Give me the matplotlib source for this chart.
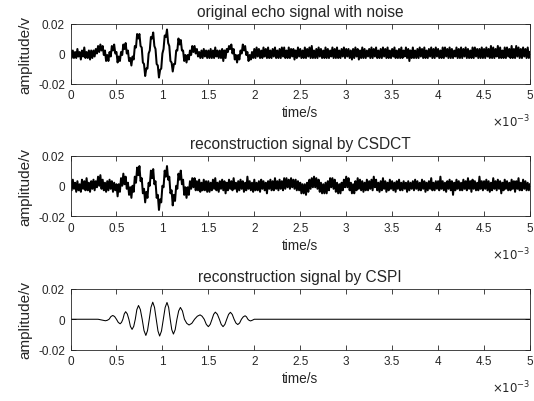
import numpy as np
import matplotlib
matplotlib.use('Agg')
import matplotlib.pyplot as plt

# values, in mV, one sample every 0.0125 ms (0 .. 5 ms)
echo_mv = [
    2, -3, 2, -3, 1, -3, 3, -2, 1, -4, 2, -2, 4, -3, 1, -3, 2, -4, 2, -3,
    2, -2, 3, 0, 5, 1, 6, 2, 5, -1, 2, -5, -1, -5, 1, -2, 5, 2, 6, 0,
    1, -6, -2, -5, 1, -1, 6, 3, 7, 0, 2, -5, -3, -8, -2, -4, 5, 4, 13, 10,
    13, 5, 4, -6, -7, -15, -10, -10, 0, 2, 11, 10, 14, 5, 3, -7, -8, -16, -11, -10,
    0, 3, 12, 11, 16, 7, 5, -5, -6, -12, -7, -7, 2, 2, 10, 6, 9, 2, 2, -5,
    -1, -6, -1, -4, 2, -1, 5, 1, 5, 0, 3, -2, 1, -3, 2, -3, 3, -2, 2, -3,
    2, -3, 3, -3, 2, -3, 4, -2, 2, -3, 2, -3, 3, -5, 2, -3, 3, 1, 5, 3,
    6, 0, 3, -4, -1, -6, -1, -4, 2, 0, 6, 2, 5, -1, 1, -5, -1, -4, 1, -3,
    3, -3, 4, -2, 3, -3, 2, -3, 4, -2, 3, -3, 4, -3, 2, -3, 3, -2, 4, -3,
    2, -3, 3, -3, 4, -2, 4, -3, 2, -3, 4, -3, 3, -2, 3, -4, 2, -3, 4, -2,
    3, -3, 2, -3, 4, -3, 3, -2, 4, -3, 5, -3, 2, -3, 3, -3, 4, -2, 3, -3,
    2, -3, 4, -3, 3, -3, 2, -2, 4, -3, 3, -3, 4, -3, 2, -3, 3, -2, 4, -3,
    3, -2, 3, -3, 2, -4, 3, -3, 4, -2, 3, -4, 2, -3, 4, -3, 3, -3, 2, -2,
    3, -3, 4, -3, 3, -2, 4, -3, 2, -3, 3, -3, 4, -2, 3, -3, 4, -3, 2, -3,
    3, -2, 4, -3, 2, -3, 3, -3, 4, -3, 2, -2, 4, -3, 3, -5, 2, -3, 4, -3,
    2, -3, 3, -3, 4, -2, 3, -3, 4, -3, 2, -3, 3, -2, 4, -3, 3, -3, 4, -2,
    3, -3, 2, -3, 4, -3, 4, -2, 3, -3, 4, -3, 3, -3, 2, -2, 4, -3, 3, -3,
    4, -3, 3, -2, 4, -3, 3, -3, 2, -3, 4, -3, 4, -2, 3, -3, 3, -3, 4, -3,
    3, -3, 4, -2, 3, -3, 5, -3, 4, -3, 3, -2, 5, -3, 4, -3, 2, -3, 4, -3,
    4, -2, 3, -3, 5, -3, 3, -3, 5, -2, 4, -3, 3, -3, 4, -2, 3, -3, 4, -3,
    1,
]

csdct_mv = [
    3, -3, 4, -2, 2, -4, 3, -3, 1, -4, 4, -2, 3, -3, 5, -3, 2, -4, 3, -2,
    4, -3, 3, -1, 6, 0, 7, -2, 4, -3, 2, -4, 3, -3, 4, -2, 3, -4, 2, -3,
    1, -7, 1, -4, 5, 0, 8, 1, 6, -2, 2, -6, -1, -8, 0, -4, 6, 2, 12, 7,
    13, 3, 5, -5, -2, -11, -4, -8, 2, 0, 10, 5, 11, 1, 3, -8, -6, -16, -9, -11,
    0, -1, 10, 6, 13, 4, 6, -5, -3, -13, -6, -10, 0, -2, 8, 4, 10, 1, 4, -6,
    -1, -8, -1, -6, 3, -2, 5, -1, 5, -3, 3, -3, 4, -4, 2, -3, 4, -3, 3, -4,
    3, -4, 2, -3, 4, -2, 5, -3, 2, -4, 3, -2, 4, -3, 3, -5, 2, -3, 4, -2,
    3, -3, 5, -2, 2, -4, 3, -3, 4, -2, 3, -4, 2, -3, 6, -2, 3, -3, 2, -4,
    4, -3, 2, -3, 3, -4, 4, -2, 3, -3, 2, -5, 3, -2, 4, -3, 3, -3, 5, -2,
    3, -3, 4, -2, 3, -3, 5, -2, 5, -1, 4, -2, 5, -1, 4, -2, 4, -3, 3, -3,
    2, -5, 1, -5, 1, -6, 2, -4, 4, -2, 5, -1, 6, -1, 5, -2, 4, -4, 2, -5,
    1, -5, 2, -5, 3, -3, 5, -1, 5, -2, 4, -4, 2, -5, 1, -5, 2, -3, 4, -1,
    6, -1, 5, -3, 2, -5, 1, -5, 3, -3, 5, -2, 4, -3, 3, -4, 2, -3, 4, -3,
    3, -2, 4, -3, 6, -1, 4, -3, 2, -4, 3, -3, 5, -2, 3, -4, 2, -3, 4, -2,
    3, -3, 2, -4, 3, -2, 4, -3, 2, -3, 3, -2, 2, -4, 3, -3, 2, -2, 3, -3,
    4, -2, 3, -3, 2, -3, 4, -2, 3, -4, 2, -3, 3, -2, 5, -3, 2, -3, 3, -2,
    3, -3, 6, -2, 3, -3, 2, -4, 3, -2, 4, -3, 3, -6, 2, -3, 4, -2, 3, -3,
    2, -3, 4, -2, 3, -3, 5, -2, 3, -4, 4, -2, 3, -3, 2, -3, 6, -2, 3, -3,
    3, -2, 4, -3, 3, -4, 2, -3, 5, -2, 3, -3, 4, -2, 3, -5, 2, -3, 4, -2,
    3, -3, 2, -3, 4, -2, 3, -4, 3, -2, 5, -3, 2, -3, 4, -2, 3, -3, 2, -3,
    1,
]

# CSPI reconstruction (time in ms, value in mV)
cspi_t_ms = [0, 0.30, 0.34, 0.38, 0.40, 0.42, 0.44, 0.46, 0.48, 0.50,
             0.52, 0.54, 0.555, 0.57, 0.585, 0.60, 0.618, 0.635, 0.652, 0.67,
             0.688, 0.705, 0.722, 0.74, 0.76, 0.78, 0.80, 0.82, 0.838, 0.857,
             0.876, 0.895, 0.914, 0.933, 0.952, 0.97, 0.99, 1.01, 1.03, 1.05,
             1.068, 1.085, 1.102, 1.12, 1.139, 1.158, 1.177, 1.196, 1.218, 1.24,
             1.265, 1.29, 1.32, 1.35, 1.38, 1.41, 1.432, 1.455, 1.478, 1.50,
             1.52, 1.54, 1.558, 1.576, 1.598, 1.62, 1.64, 1.66, 1.68, 1.70,
             1.72, 1.74, 1.76, 1.78, 1.80, 1.82, 1.84, 1.86, 1.88, 1.90,
             1.915, 1.93, 1.945, 1.96, 1.98, 2.0, 5.0]
cspi_mv = [0, 0, -0.5, -1.0, -0.7, 0, 1.8, 2.5, 1.8, 0,
           -2.1, -3.0, -2.1, 0, 3.5, 5.0, 3.5, 0, -4.7, -6.7,
           -4.7, 0, 6.4, 9.1, 6.4, 0, -7.5, -10.7, -7.5, 0,
           7.9, 11.3, 7.9, 0, -7.8, -11.1, -7.8, 0, 7.8, 11.1,
           7.8, 0, -6.9, -9.8, -6.9, 0, 5.5, 7.8, 5.5, 0,
           -2.7, -3.8, -2.7, 0, 2.0, 2.9, 2.0, 0, -3.4, -4.9,
           -3.4, 0, 3.3, 4.7, 3.3, 0, -3.4, -4.9, -3.4, 0,
           3.2, 4.6, 3.2, 0, -2.5, -3.5, -2.5, 0, 1.6, 2.3,
           1.6, 0, -0.8, -1.1, -0.6, 0, 0]

titles = ['original echo signal with noise',
          'reconstruction signal by CSDCT',
          'reconstruction signal by CSPI']
xtick_vals = [0, 0.5, 1, 1.5, 2, 2.5, 3, 3.5, 4, 4.5, 5]
xtick_labels = ['0', '0.5', '1', '1.5', '2', '2.5', '3', '3.5', '4', '4.5', '5']
ytick_vals = [-0.02, 0, 0.02]
ytick_labels = ['-0.02', '0', '0.02']

plt.rcParams['font.family'] = ['Liberation Sans', 'DejaVu Sans']
txt = '#262626'

fig = plt.figure(figsize=(5.34, 4.02), dpi=100)
W, H = 534.0, 402.0
left, right = 70.5, 530.0
boxes = [(24.5, 84.5), (156.5, 217.0), (290.0, 350.5)]

t_noisy = np.linspace(0, 5e-3, len(echo_mv))
series = [
    (t_noisy, np.array(echo_mv) * 1e-3, 1.45),
    (t_noisy, np.array(csdct_mv) * 1e-3, 1.45),
    (np.array(cspi_t_ms) * 1e-3, np.array(cspi_mv) * 1e-3, 0.75),
]

for (top, bot), (x, y, lw), title in zip(boxes, series, titles):
    ax = fig.add_axes([left / W, 1 - bot / H, (right - left) / W, (bot - top) / H])
    ax.plot(x, y, color='black', linewidth=lw)
    ax.set_xlim(0, 5e-3)
    ax.set_ylim(-0.02, 0.02)
    ax.set_xticks([v * 1e-3 for v in xtick_vals])
    ax.set_xticklabels(xtick_labels)
    ax.set_yticks(ytick_vals)
    ax.set_yticklabels(ytick_labels)
    ax.tick_params(direction='in', length=3.5, width=0.6, top=True, right=True,
                   labelsize=8.5, colors=txt, pad=4)
    for s in ax.spines.values():
        s.set_linewidth(0.6)
        s.set_color(txt)
    ax.set_title(title, fontsize=11.2, color=txt, pad=5.5)
    ax.set_xlabel('time/s', fontsize=9.8, color=txt, labelpad=3)
    ax.set_ylabel('amplitude/v', fontsize=11, color=txt, labelpad=4)
    ax.text(1.0, -0.76, r'$\times10^{-3}$', transform=ax.transAxes,
            ha='right', va='bottom', fontsize=8.5, color=txt)

fig.savefig('out.png', dpi=100)
